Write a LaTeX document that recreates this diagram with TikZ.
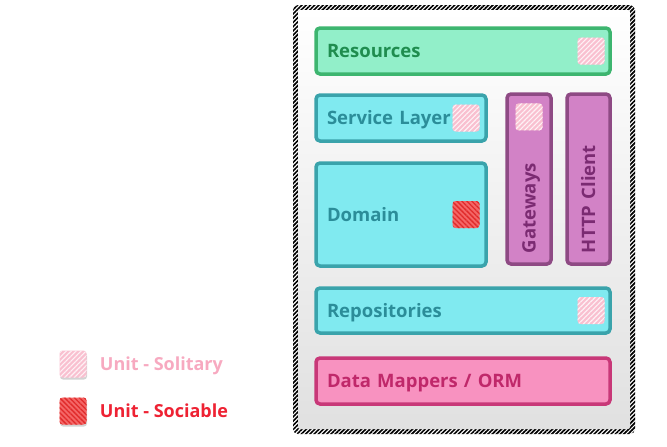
\documentclass[tikz,border=0pt]{standalone}
\usepackage{fontspec}
\setmainfont{Open Sans}
\usetikzlibrary{positioning,patterns.meta,shadows}

\definecolor{resfill}{HTML}{92EFC9}
\definecolor{resdraw}{HTML}{3DB56F}
\definecolor{restext}{HTML}{1F8D4F}
\definecolor{cyfill}{HTML}{80EAF0}
\definecolor{cydraw}{HTML}{3AA3AB}
\definecolor{cytext}{HTML}{2B8D99}
\definecolor{gwfill}{HTML}{D282C6}
\definecolor{gwdraw}{HTML}{8E4A84}
\definecolor{gwtext}{HTML}{7B2B72}
\definecolor{ormfill}{HTML}{F892C0}
\definecolor{ormdraw}{HTML}{C83878}
\definecolor{ormtext}{HTML}{C0286A}
\definecolor{solfill}{HTML}{F9C0D0}
\definecolor{soltext}{HTML}{F7A9C0}
\definecolor{socfill}{HTML}{F46666}
\definecolor{socline}{HTML}{E02A2A}
\definecolor{soctext}{HTML}{EE2233}

\tikzset{
    layer/.style = {line width=3.5pt, rounded corners=4pt, inner xsep=11pt, inner ysep=0pt, align=left, text height=13pt, text depth=0pt, font=\fontsize{18.5}{21}\selectfont\bfseries},
    resources/.style = {layer, draw=resdraw, fill=resfill, text=restext},
    core/.style = {layer, draw=cydraw, fill=cyfill, text=cytext},
    gateway/.style = {layer, draw=gwdraw, fill=gwfill, text=gwtext, rotate=90},
    mapper/.style = {layer, draw=ormdraw, fill=ormfill, text=ormtext},
    solitary/.style = {rectangle, rounded corners=3pt, minimum size=27pt, inner sep=0pt, fill=solfill, postaction={pattern={Lines[angle=45, distance=3.5pt, line width=1.1pt]}, pattern color=white!80!solfill}},
    sociable/.style = {rectangle, rounded corners=3pt, minimum size=27pt, inner sep=0pt, fill=socfill, postaction={pattern={Lines[angle=-45, distance=3.5pt, line width=1.3pt]}, pattern color=socline}},
    legend-text/.style = {font=\fontsize{18}{21}\selectfont\bfseries, inner sep=0pt, text height=13pt, text depth=0pt},
}

\begin{document}
\begin{tikzpicture}[x=1pt, y=-1pt]
\useasboundingbox (0,0) rectangle (667,447);

% frame round the layers
\node[rectangle, rounded corners=5pt, minimum width=342pt, minimum height=429pt, fill=white,
      postaction={pattern={Lines[angle=45, distance=3pt, line width=1.7pt]}, pattern color=black}] (frame) at (464,219.5) {};
\node[rectangle, rounded corners=2pt, minimum width=332pt, minimum height=419pt,
      top color=white, bottom color=black!12] (inner) at (frame.center) {};

% layers
\node[resources, text width=272pt, minimum height=46pt] (res) at (463,51) {Resources};
\node[core, text width=148pt, minimum height=46pt] (svc) at (401,118) {Service Layer};
\node[core, text width=148pt, minimum height=103pt] (dom) at (401,214.5) {Domain};
\node[gateway, text width=148pt, minimum height=44pt] (gw) at (529,179) {Gateways};
\node[gateway, text width=148pt, minimum height=43pt] (http) at (588.5,179) {HTTP Client};
\node[core, text width=272pt, minimum height=45pt] (repo) at (463,310.5) {Repositories};
\node[mapper, text width=272pt, minimum height=46pt] (orm) at (463,381) {Data Mappers / ORM};

% test markers
\node[solitary, left=7pt of res.east] (res-test) {};
\node[solitary, left=8pt of svc.east] (svc-test) {};
\node[sociable, left=8pt of dom.east] (dom-test) {};
\node[solitary, below=11pt of gw.east] (gw-test) {};
\node[solitary, left=7pt of repo.east] (repo-test) {};

% legend
\node[solitary, drop shadow={shadow xshift=0.5pt, shadow yshift=-2pt, opacity=0.35}] (key-sol) at (73,364) {};
\node[sociable, drop shadow={shadow xshift=0.5pt, shadow yshift=-2pt, opacity=0.35}] (key-soc) at (73,411) {};
\node[legend-text, text=soltext, right=13pt of key-sol] (sol-label) {Unit - Solitary};
\node[legend-text, text=soctext, right=13pt of key-soc] (soc-label) {Unit - Sociable};
\end{tikzpicture}
\end{document}
